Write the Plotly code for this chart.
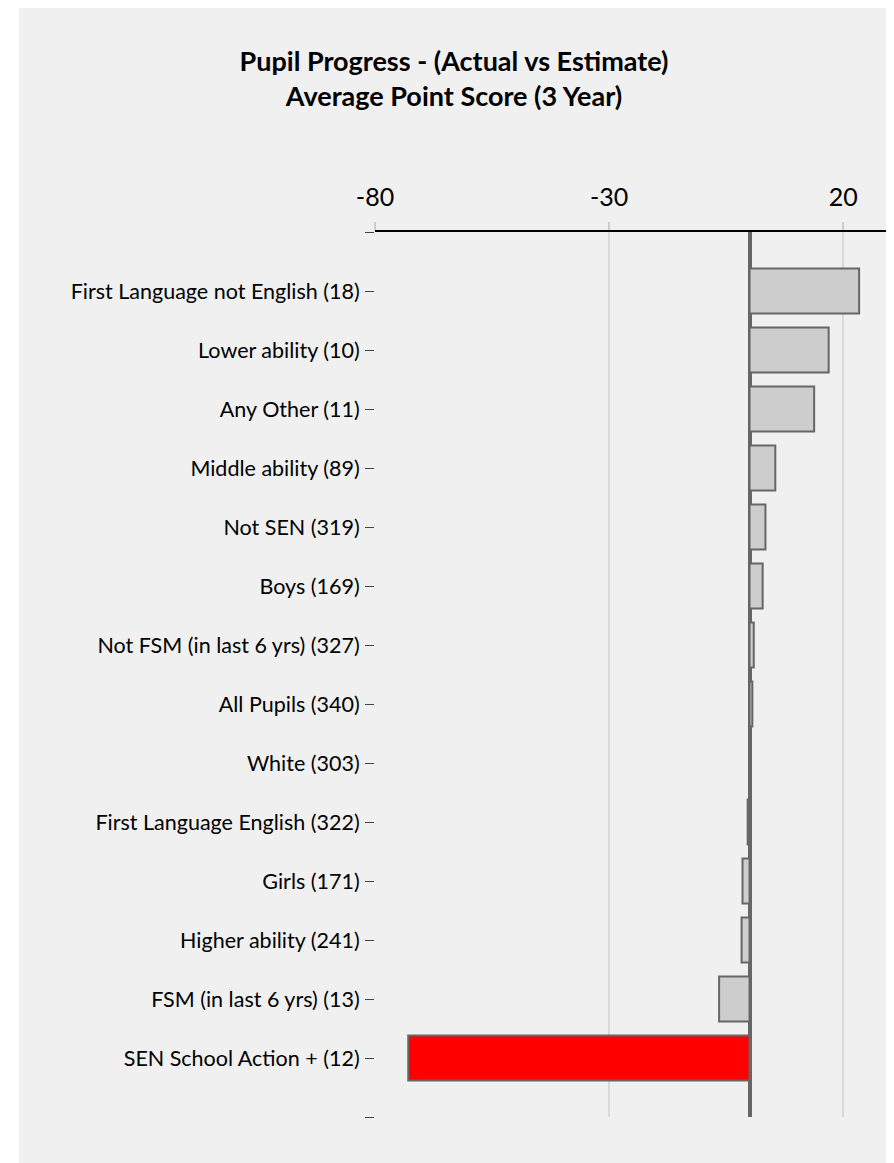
import plotly.graph_objects as go

categories = [
    "First Language not English (18)",
    "Lower ability (10)",
    "Any Other (11)",
    "Middle ability (89)",
    "Not SEN (319)",
    "Boys (169)",
    "Not FSM (in last 6 yrs) (327)",
    "All Pupils (340)",
    "White (303)",
    "First Language English (322)",
    "Girls (171)",
    "Higher ability (241)",
    "FSM (in last 6 yrs) (13)",
    "SEN School Action + (12)",
]
values = [23.4, 16.9, 13.8, 5.5, 3.4, 2.8, 0.9, 0.6, 0.1, -0.4, -1.5, -1.7, -6.5, -72.9]
highlight = "SEN School Action + (12)"

x_ticks = [-80, -30, 20]

positions = list(range(len(categories)))
colors = ["#ff0000" if c == highlight else "#cdcdcd" for c in categories]

fig = go.Figure()
fig.add_trace(go.Bar(
    y=positions, x=values, orientation="h",
    marker=dict(color=colors, line=dict(color="#666666", width=2)),
    width=0.76,
    hoverinfo="skip",
))

# page has an 8px body margin; work in figure coordinates
OFF = 8
W, H = 894 - OFF, 1163 - OFF
ml, mr, mt, mb = 375 - OFF, W - (890 - OFF), 232 - OFF, H - (1117 - OFF)
pw, ph = W - ml - mr, H - mt - mb

# grey panel
fig.add_shape(type="rect", xref="paper", yref="paper",
              x0=(19 - OFF - ml) / pw, x1=1.0,
              y0=-mb / ph - 0.01, y1=(H - mb) / ph + 0.01,
              fillcolor="#f0f0f0", line=dict(width=0), layer="below")

fig.update_layout(
    width=W, height=H,
    margin=dict(l=ml, r=mr, t=mt, b=mb),
    paper_bgcolor="#ffffff",
    plot_bgcolor="rgba(0,0,0,0)",
    showlegend=False,
    font=dict(family="Lato, sans-serif", color="#000000"),
    title=dict(
        text="<b>Pupil Progress - (Actual vs Estimate)<br>Average Point Score (3 Year)</b>",
        x=(454 - OFF) / W, xanchor="center", y=1 - (71 - OFF) / H, yanchor="middle",
        font=dict(size=27, family="Lato, sans-serif", color="#000000"),
    ),
    xaxis=dict(
        side="top", range=[-80, 30], tickvals=x_ticks,
        ticktext=[str(v) for v in x_ticks],
        showgrid=True, gridcolor="#d9d9d9", gridwidth=2,
        zeroline=True, zerolinecolor="#666666", zerolinewidth=4,
        showline=True, linecolor="#000000", linewidth=2,
        ticks="outside", ticklen=8, tickcolor="#cccccc", tickwidth=2,
        ticklabelstandoff=6,
        tickfont=dict(size=25, color="#000000"),
        fixedrange=True,
    ),
    yaxis=dict(
        range=[14, -1],
        tickvals=[-1] + positions + [14],
        ticktext=[""] + categories + [""],
        showgrid=False, zeroline=False, showline=False,
        ticks="outside", ticklen=9, tickcolor="#444444", tickwidth=1,
        ticklabelstandoff=1,
        tickfont=dict(size=21.5, color="#000000"),
        fixedrange=True,
    ),
)

fig.write_html("out.html")
